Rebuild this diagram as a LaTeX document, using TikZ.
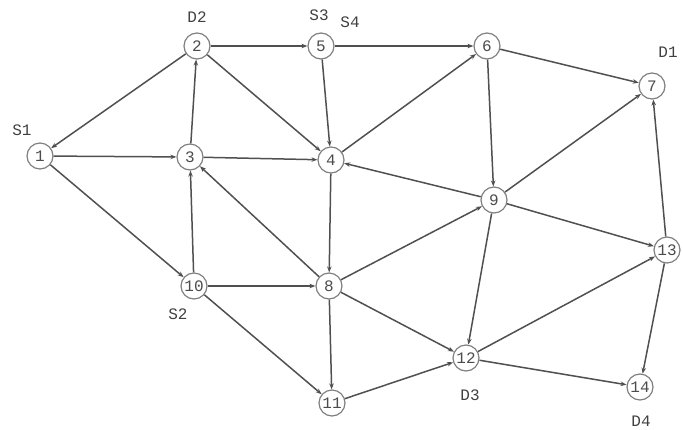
\documentclass[tikz,border=0pt]{standalone}
\usepackage{fontspec}
\setmainfont{Liberation Mono}
\usetikzlibrary{arrows.meta}
\definecolor{edgecol}{HTML}{505050}
\definecolor{nodecol}{HTML}{808080}
\begin{document}
\begin{tikzpicture}[x=1pt,y=-1pt,
  vtx/.style={circle,draw=nodecol,line width=1.2pt,fill=white,minimum size=26pt,inner sep=0pt,font=\fontsize{16}{16}\selectfont,text=black!70},
  lbl/.style={font=\fontsize{16}{16}\selectfont,text=black!75},
  edge/.style={draw=edgecol,line width=1.5pt,-{Stealth[length=6pt,width=4.5pt]}}]
\useasboundingbox (0,0) rectangle (683,429);
\node[vtx] (n1) at (40,156) {1};
\node[vtx] (n2) at (197,46) {2};
\node[vtx] (n3) at (190,157) {3};
\node[vtx] (n4) at (331,160) {4};
\node[vtx] (n5) at (321,46) {5};
\node[vtx] (n6) at (487,46) {6};
\node[vtx] (n7) at (652,86) {7};
\node[vtx] (n8) at (329,286) {8};
\node[vtx] (n9) at (494,200) {9};
\node[vtx] (n10) at (194,286) {10};
\node[vtx] (n11) at (332,403) {11};
\node[vtx] (n12) at (466,358) {12};
\node[vtx] (n13) at (667,250) {13};
\node[vtx] (n14) at (640,387) {14};
\node[lbl] (l1) at (22,130) {S1};
\node[lbl] (l2) at (197,17) {D2};
\node[lbl] (l3) at (319,15) {S3};
\node[lbl] (l4) at (350,22) {S4};
\node[lbl] (l5) at (668,52) {D1};
\node[lbl] (l6) at (178,314) {S2};
\node[lbl] (l7) at (470,395) {D3};
\node[lbl] (l8) at (641,421) {D4};
\foreach \a/\b in {n2/n1,n1/n3,n1/n10,n2/n5,n2/n4,n3/n2,n3/n4,n5/n4,n5/n6,n4/n6,n9/n4,n6/n9,n6/n7,n9/n7,n13/n7,n9/n13,n9/n12,n8/n9,n8/n3,n4/n8,n10/n3,n10/n8,n10/n11,n8/n11,n8/n12,n11/n12,n12/n13,n12/n14,n13/n14}
  \draw[edge] (\a) -- (\b);
\end{tikzpicture}
\end{document}
